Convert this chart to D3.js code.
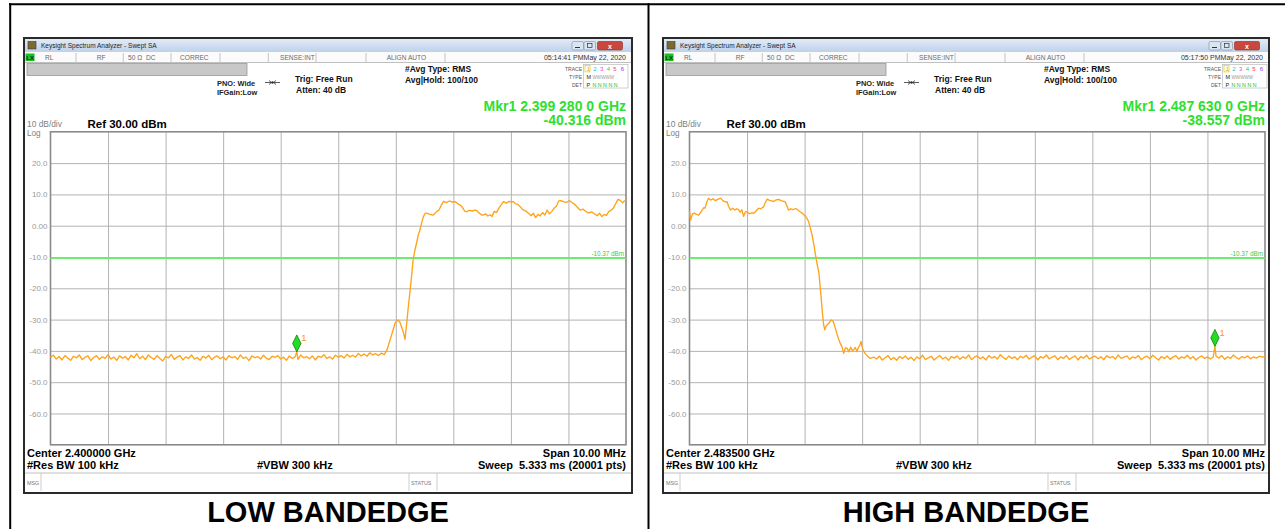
<!DOCTYPE html>
<html>
<head>
<meta charset="utf-8">
<script src="https://cdn.jsdelivr.net/npm/d3@7"></script>
<style>
  body { margin: 0; background: #fff; }
  svg { display: block; }
  text { font-family: "Liberation Sans", Arial, sans-serif; }
</style>
</head>
<body>
<div id="chart"></div>
<script>
// ---- values ----
const panelNames = ["LOW BANDEDGE", "HIGH BANDEDGE"];
const centerGHz = [2.4, 2.4835];
const centerLabels = ["Center 2.400000 GHz", "Center 2.483500 GHz"];
const markerGHz = [2.39928, 2.48763];
const markerDbm = [-40.316, -38.557];
const markerLabels = ["Mkr1 2.399 280 0 GHz", "Mkr1 2.487 630 0 GHz"];
const markerValueLabels = ["-40.316 dBm", "-38.557 dBm"];
const timeStamps = ["05:14:41 PMMay 22, 2020", "05:17:50 PMMay 22, 2020"];
const displayLineDbm = -10.37;
const yTicks = [20, 10, 0, -10, -20, -30, -40, -50, -60];
const yTickLabels = ["20.0", "10.0", "0.00", "-10.0", "-20.0", "-30.0", "-40.0", "-50.0", "-60.0"];
const xGrid = [-4, -3, -2, -1, 0, 1, 2, 3, 4]; // MHz from center, 1 MHz/div

// trace points: [offset from center in MHz, level in dBm]
const lowTrace = [
  [-5.00,-42.0],[-4.95,-41.4],[-4.90,-42.6],[-4.85,-41.8],[-4.80,-42.9],[-4.75,-41.5],[-4.70,-42.3],[-4.65,-43.0],[-4.60,-41.7],[-4.55,-42.2],
  [-4.50,-41.3],[-4.45,-42.8],[-4.40,-42.0],[-4.35,-41.6],[-4.30,-43.1],[-4.25,-42.1],[-4.20,-41.5],[-4.15,-42.7],[-4.10,-41.9],[-4.05,-42.4],
  [-4.00,-41.2],[-3.95,-42.6],[-3.90,-42.0],[-3.85,-43.0],[-3.80,-41.6],[-3.75,-42.3],[-3.70,-41.8],[-3.65,-42.9],[-3.60,-41.4],[-3.55,-42.2],
  [-3.50,-40.9],[-3.45,-42.5],[-3.40,-41.7],[-3.35,-42.8],[-3.30,-41.3],[-3.25,-42.1],[-3.20,-42.7],[-3.15,-41.5],[-3.10,-42.4],[-3.05,-43.2],
  [-3.00,-41.8],[-2.95,-42.2],[-2.90,-41.1],[-2.85,-42.7],[-2.80,-42.0],[-2.75,-41.5],[-2.70,-42.9],[-2.65,-41.9],[-2.60,-42.4],[-2.55,-41.3],
  [-2.50,-42.6],[-2.45,-42.1],[-2.40,-43.0],[-2.35,-41.7],[-2.30,-42.3],[-2.25,-41.4],[-2.20,-42.8],[-2.15,-42.0],[-2.10,-41.6],[-2.05,-42.5],
  [-2.00,-41.9],[-1.95,-42.9],[-1.90,-41.5],[-1.85,-42.2],[-1.80,-41.8],[-1.75,-42.7],[-1.70,-41.3],[-1.65,-42.4],[-1.60,-42.0],[-1.55,-43.1],
  [-1.50,-41.6],[-1.45,-42.2],[-1.40,-41.8],[-1.35,-42.6],[-1.30,-41.4],[-1.25,-42.3],[-1.20,-42.8],[-1.15,-41.7],[-1.10,-42.1],[-1.05,-41.5],
  [-1.00,-42.6],[-0.95,-42.0],[-0.90,-43.0],[-0.85,-41.6],[-0.80,-42.4],[-0.75,-41.9],[-0.72,-40.3],[-0.70,-42.7],[-0.65,-41.3],[-0.60,-42.2],[-0.55,-41.8],
  [-0.50,-42.5],[-0.45,-41.6],[-0.40,-42.9],[-0.35,-41.7],[-0.30,-42.1],[-0.25,-41.2],[-0.20,-42.4],[-0.15,-41.9],[-0.10,-42.6],[-0.05,-41.4],
  [0.00,-42.0],[0.05,-41.5],[0.10,-42.3],[0.15,-41.1],[0.20,-41.9],[0.25,-41.4],[0.30,-42.0],[0.35,-40.8],[0.40,-41.6],[0.45,-41.0],
  [0.50,-41.7],[0.55,-40.6],[0.60,-41.3],[0.65,-40.9],[0.70,-41.5],[0.75,-40.7],
  [0.80,-41.2],[0.85,-39.5],[0.90,-36.5],[0.95,-33.5],[0.99,-31.0],[1.04,-30.1],[1.07,-30.8],[1.10,-32.3],[1.13,-34.0],[1.16,-36.3],
  [1.19,-31.0],[1.22,-25.5],[1.25,-20.5],[1.28,-15.0],[1.30,-11.0],[1.33,-8.0],[1.36,-5.6],[1.39,-3.0],[1.42,-1.4],[1.45,1.0],
  [1.48,2.9],[1.51,4.0],[1.54,4.0],[1.59,3.6],[1.65,3.4],[1.71,4.5],[1.75,5.0],[1.79,6.5],[1.83,7.8],[1.88,7.4],
  [1.93,7.9],[1.98,7.5],[2.03,7.7],[2.08,7.0],[2.12,6.6],[2.16,5.8],[2.20,4.6],[2.23,4.5],[2.28,4.9],[2.33,4.7],
  [2.38,5.0],[2.41,4.8],[2.45,4.0],[2.49,3.5],[2.52,3.4],[2.56,3.8],[2.60,3.1],[2.64,3.5],[2.67,2.9],[2.71,4.6],
  [2.75,4.2],[2.78,5.2],[2.82,6.4],[2.87,7.7],[2.92,7.2],[2.97,7.8],[3.01,7.5],[3.04,7.7],[3.08,7.0],[3.12,6.8],
  [3.16,6.1],[3.20,5.2],[3.24,4.8],[3.27,4.5],[3.31,3.9],[3.35,3.2],[3.39,4.0],[3.43,2.6],[3.47,3.6],[3.51,3.1],
  [3.55,4.2],[3.59,3.4],[3.63,5.0],[3.67,3.8],[3.71,4.5],[3.75,5.6],[3.79,6.2],[3.83,7.9],[3.87,8.0],[3.92,7.6],
  [3.97,7.5],[4.02,8.0],[4.06,7.4],[4.10,7.0],[4.15,6.0],[4.20,5.0],[4.25,5.3],[4.30,4.6],[4.35,4.0],[4.40,4.4],
  [4.45,3.8],[4.50,3.2],[4.54,4.0],[4.58,2.9],[4.62,3.6],[4.66,3.3],[4.70,4.5],[4.74,4.9],[4.78,5.6],[4.82,7.0],
  [4.86,8.4],[4.90,8.1],[4.94,7.3],[4.97,7.9],[5.00,7.7]
];

const highTrace = [
  [-5.00,4.5],[-4.98,1.8],[-4.95,3.8],[-4.92,4.0],[-4.88,3.6],[-4.84,3.4],[-4.81,4.2],[-4.78,5.0],[-4.75,5.8],[-4.73,5.6],
  [-4.70,7.5],[-4.67,8.8],[-4.63,8.2],[-4.59,8.6],[-4.55,8.0],[-4.51,8.4],[-4.46,8.8],[-4.42,8.0],[-4.38,7.6],[-4.35,7.7],
  [-4.32,6.2],[-4.29,5.0],[-4.25,5.6],[-4.21,5.0],[-4.18,5.4],[-4.15,5.2],[-4.12,4.3],[-4.09,5.1],[-4.06,3.0],[-4.03,4.4],
  [-4.00,4.5],[-3.96,3.8],[-3.92,4.1],[-3.88,4.0],[-3.84,4.8],[-3.80,5.6],[-3.76,5.4],[-3.71,6.1],[-3.68,7.5],[-3.65,8.5],
  [-3.61,8.1],[-3.57,7.9],[-3.54,7.7],[-3.50,8.2],[-3.45,8.4],[-3.41,8.0],[-3.37,7.8],[-3.34,7.7],[-3.31,6.5],[-3.28,5.0],
  [-3.24,5.4],[-3.20,5.1],[-3.16,5.5],[-3.13,5.2],[-3.09,4.6],[-3.06,4.2],[-3.04,4.0],[-3.01,3.4],[-2.99,3.1],[-2.96,2.4],
  [-2.93,1.3],[-2.90,-0.8],[-2.87,-3.0],[-2.84,-6.0],[-2.81,-9.4],[-2.78,-12.5],[-2.75,-15.2],[-2.73,-19.5],[-2.71,-23.5],[-2.69,-28.0],
  [-2.67,-31.5],[-2.65,-33.3],[-2.63,-32.2],[-2.61,-31.7],[-2.58,-31.2],[-2.55,-30.4],[-2.53,-30.1],[-2.50,-30.7],[-2.47,-32.5],[-2.44,-34.4],
  [-2.41,-36.2],[-2.38,-37.6],[-2.35,-38.7],[-2.32,-40.8],[-2.29,-39.0],[-2.26,-39.2],[-2.23,-40.3],[-2.20,-38.8],[-2.17,-39.9],[-2.15,-39.7],
  [-2.12,-38.9],[-2.09,-40.2],[-2.07,-39.1],[-2.04,-38.1],[-2.02,-37.0],[-1.99,-39.5],[-1.95,-40.8],[-1.91,-41.6],[-1.86,-42.4],
  [-1.80,-42.0],[-1.75,-42.6],[-1.70,-41.7],[-1.65,-42.9],[-1.60,-42.2],[-1.55,-41.5],[-1.50,-42.8],[-1.45,-42.1],[-1.40,-43.0],[-1.35,-41.8],
  [-1.30,-42.4],[-1.25,-41.6],[-1.20,-42.7],[-1.15,-42.0],[-1.10,-43.1],[-1.05,-41.9],[-1.00,-42.5],[-0.95,-41.4],[-0.90,-42.8],[-0.85,-42.2],
  [-0.80,-41.7],[-0.75,-42.9],[-0.70,-42.1],[-0.65,-41.5],[-0.60,-42.6],[-0.55,-42.0],[-0.50,-43.0],[-0.45,-41.8],[-0.40,-42.3],[-0.35,-41.6],
  [-0.30,-42.7],[-0.25,-41.9],[-0.20,-42.4],[-0.15,-41.3],[-0.10,-42.8],[-0.05,-42.0],[0.00,-41.6],[0.05,-42.5],[0.10,-41.9],[0.15,-42.9],
  [0.20,-41.5],[0.25,-42.3],[0.30,-41.8],[0.35,-42.6],[0.40,-41.2],[0.45,-42.1],[0.50,-42.7],[0.55,-41.6],[0.60,-42.4],[0.65,-41.9],
  [0.70,-42.8],[0.75,-41.7],[0.80,-42.2],[0.85,-41.4],[0.90,-42.6],[0.95,-42.0],[1.00,-41.5],[1.05,-42.9],[1.10,-41.8],[1.15,-42.3],
  [1.20,-41.3],[1.25,-42.5],[1.30,-42.0],[1.35,-41.6],[1.40,-42.8],[1.45,-41.9],[1.50,-42.4],[1.55,-41.5],[1.60,-42.7],[1.65,-42.1],
  [1.70,-41.6],[1.75,-42.9],[1.80,-41.8],[1.85,-42.3],[1.90,-41.4],[1.95,-42.6],[2.00,-42.0],[2.05,-41.7],[2.10,-42.5],[2.15,-41.9],
  [2.20,-42.8],[2.25,-41.5],[2.30,-42.2],[2.35,-41.8],[2.40,-42.6],[2.45,-41.3],[2.50,-42.4],[2.55,-42.0],[2.60,-41.6],[2.65,-42.7],
  [2.70,-41.9],[2.75,-42.3],[2.80,-41.5],[2.85,-42.8],[2.90,-42.1],[2.95,-41.7],[3.00,-42.5],[3.05,-41.4],[3.10,-42.2],[3.15,-42.9],
  [3.20,-41.8],[3.25,-42.4],[3.30,-41.6],[3.35,-42.7],[3.40,-42.0],[3.45,-41.5],[3.50,-42.6],[3.55,-41.9],[3.60,-42.3],[3.65,-41.4],
  [3.70,-42.5],[3.75,-41.8],[3.80,-42.9],[3.85,-42.1],[3.90,-41.6],[3.95,-42.4],[4.00,-41.9],[4.05,-42.6],[4.10,-42.0],[4.13,-38.6],[4.15,-41.7],
  [4.20,-42.3],[4.25,-41.5],[4.30,-42.7],[4.35,-41.9],[4.40,-42.4],[4.45,-41.3],[4.50,-42.1],[4.55,-42.6],[4.60,-41.8],[4.65,-42.2],
  [4.70,-41.6],[4.75,-42.5],[4.80,-41.9],[4.85,-42.3],[4.90,-41.7],[4.95,-42.0],[5.00,-41.8]
];

const traces = [lowTrace, highTrace];
const winX = [24, 663];
const winW = [608, 606];

// ---- drawing ----
const svg = d3.select("#chart").append("svg").attr("width", 1285).attr("height", 529);

const grad = svg.append("defs").append("linearGradient")
  .attr("id", "titleGrad").attr("x1", 0).attr("y1", 0).attr("x2", 0).attr("y2", 1);
grad.append("stop").attr("offset", "0%").attr("stop-color", "#e2ebf7");
grad.append("stop").attr("offset", "100%").attr("stop-color", "#bed1ea");

// table frame around the two screenshots
svg.append("line").attr("x1", 9).attr("x2", 1285).attr("y1", 4.3).attr("y2", 4.3).attr("stroke", "#000").attr("stroke-width", 2);
svg.append("line").attr("x1", 10.2).attr("x2", 10.2).attr("y1", 3.3).attr("y2", 529).attr("stroke", "#000").attr("stroke-width", 2);
svg.append("line").attr("x1", 648.5).attr("x2", 648.5).attr("y1", 3.3).attr("y2", 529).attr("stroke", "#000").attr("stroke-width", 2);

function label(parent, x, y, s, size, fill, weight, anchor) {
  return parent.append("text").attr("x", x).attr("y", y)
    .attr("font-size", size).attr("fill", fill || "#000")
    .attr("font-weight", weight || "normal")
    .attr("text-anchor", anchor || "start")
    .text(s);
}

function drawPanel(i) {
  const W = winW[i];
  const g = svg.append("g").attr("transform", "translate(" + winX[i] + ",38)");

  // window body + title bar
  g.append("rect").attr("x", 0).attr("y", 0).attr("width", W).attr("height", 455)
    .attr("fill", "#fff").attr("stroke", "#2a2a2a").attr("stroke-width", 2);
  g.append("rect").attr("x", 1).attr("y", 1).attr("width", W - 2).attr("height", 13).attr("fill", "url(#titleGrad)");
  g.append("rect").attr("x", 4).attr("y", 3.5).attr("width", 8).attr("height", 7.5)
    .attr("fill", "#7d6a2e").attr("stroke", "#3a3a3a").attr("stroke-width", 0.6);
  label(g, 17, 10.3, "Keysight Spectrum Analyzer - Swept SA", 6.5, "#1e1e1e");

  // min / restore / close
  [W - 60, W - 48].forEach((bx) => {
    g.append("rect").attr("x", bx).attr("y", 3.5).attr("width", 11.5).attr("height", 8.5).attr("rx", 1.5)
      .attr("fill", "#dbe5f2").attr("stroke", "#7b8ea8").attr("stroke-width", 0.6);
  });
  g.append("line").attr("x1", W - 57).attr("x2", W - 52).attr("y1", 9.5).attr("y2", 9.5).attr("stroke", "#333");
  g.append("rect").attr("x", W - 44.5).attr("y", 5.5).attr("width", 4.5).attr("height", 4)
    .attr("fill", "none").attr("stroke", "#333").attr("stroke-width", 0.7);
  g.append("rect").attr("x", W - 34.5).attr("y", 3.5).attr("width", 25).attr("height", 8.5).attr("rx", 1.5)
    .attr("fill", "#c9473d").attr("stroke", "#8a2c26").attr("stroke-width", 0.6);
  label(g, W - 22, 10.5, "x", 7, "#fff", "bold", "middle");

  // settings status row
  g.append("rect").attr("x", 1).attr("y", 14).attr("width", W - 2).attr("height", 10.5).attr("fill", "#fbfbfb");
  g.append("line").attr("x1", 1).attr("x2", W - 1).attr("y1", 24.5).attr("y2", 24.5).attr("stroke", "#b0b0b0").attr("stroke-width", 0.8);
  g.append("rect").attr("x", 1.5).attr("y", 15.5).attr("width", 9).attr("height", 7.5).attr("fill", "#17c417");
  label(g, 2.3, 22, "LX", 6, "#14204a", "bold");
  [52, 99.3, 147, 196, 244.3, 292, 342, 421].forEach((sx) => {
    g.append("line").attr("x1", sx).attr("x2", sx).attr("y1", 15).attr("y2", 24).attr("stroke", "#b8b8b8").attr("stroke-width", 0.8);
  });
  const statusItems = [[21, "RL"], [72.7, "RF"], [104, "50 \u03A9"], [122, "DC"], [156, "CORREC"], [256, "SENSE:INT"], [362.7, "ALIGN AUTO"]];
  statusItems.forEach((d) => label(g, d[0], 22, d[1], 6.6, "#6a6a6a"));
  label(g, W - 6, 22.3, timeStamps[i], 7, "#333", "normal", "end");

  // gray message bar
  g.append("rect").attr("x", 3).attr("y", 25.5).attr("width", 220).attr("height", 12)
    .attr("fill", "#c8c8c8").attr("stroke", "#9a9a9a").attr("stroke-width", 0.8);

  // acquisition settings
  label(g, 193, 47.5, "PNO: Wide", 7.4, "#222", "bold");
  label(g, 193, 57, "IFGain:Low", 7.4, "#222", "bold");
  g.append("path").attr("d", "M241,44.5H256M245,42.5L247.5,44.5L245,46.5M252,42.5L249.5,44.5L252,46.5")
    .attr("stroke", "#333").attr("stroke-width", 0.8).attr("fill", "none");
  g.append("circle").attr("cx", 248.5).attr("cy", 44.5).attr("r", 1.2).attr("fill", "#333");
  label(g, 271, 43.5, "Trig: Free Run", 8.5, "#111", "bold");
  label(g, 272, 54.5, "Atten: 40 dB", 8.5, "#111", "bold");
  label(g, 381, 33.5, "#Avg Type: RMS", 8.5, "#111", "bold");
  label(g, 381, 44.5, "Avg|Hold: 100/100", 8.5, "#111", "bold");

  // trace legend
  label(g, 558, 32.5, "TRACE", 5, "#555", "normal", "end");
  label(g, 558, 40.5, "TYPE", 5, "#555", "normal", "end");
  label(g, 558, 48.5, "DET", 5, "#555", "normal", "end");
  g.append("rect").attr("x", 559.5).attr("y", 26.5).attr("width", 44.5).attr("height", 23.5)
    .attr("fill", "#fff").attr("stroke", "#b0b0b0").attr("stroke-width", 0.6);
  g.append("rect").attr("x", 561).attr("y", 27.3).attr("width", 5).attr("height", 6.6)
    .attr("fill", "none").attr("stroke", "#c8d800").attr("stroke-width", 0.7);
  const traceDigits = ["1", "2", "3", "4", "5", "6"];
  const traceColors = ["#ff9900", "#00c8e8", "#ff33ff", "#33cc33", "#ff3366", "#9933ff"];
  const digitX = [562.7, 569.3, 576, 582.7, 589.3, 596.7];
  traceDigits.forEach((d, k) => label(g, digitX[k], 32.8, d, 6, traceColors[k]));
  label(g, 562.5, 40.5, "M", 5.5, "#222");
  label(g, 568.5, 40.5, "WWWWW", 4.6, "#999");
  label(g, 562.5, 48.5, "P", 5.5, "#222");
  label(g, 568.5, 48.5, "N N N N N", 5.3, "#22bb22");

  // marker readout
  label(g, 602, 72.5, markerLabels[i], 14, "#2fdf2f", "bold", "end");
  label(g, 602, 86.5, markerValueLabels[i], 14, "#2fdf2f", "bold", "end");
  label(g, 3, 88.5, "10 dB/div", 8.4, "#808080");
  label(g, 3, 97.6, "Log", 8.2, "#808080");
  label(g, 63.5, 89.5, "Ref 30.00 dBm", 11.5, "#000", "bold");

  // ---- plot ----
  const pw = 575.5, ph = 313;
  const plot = g.append("g").attr("transform", "translate(26.5,93.8)");
  const x = d3.scaleLinear().domain([-5, 5]).range([0, pw]);
  const y = d3.scaleLinear().domain([-70, 30]).range([ph, 0]);

  plot.append("g").attr("transform", "translate(0," + ph + ")")
    .call(d3.axisBottom(x).tickValues(xGrid).tickSize(-ph).tickFormat(""))
    .call((a) => a.select(".domain").remove())
    .selectAll("line").attr("stroke", "#b3b3b3");
  plot.append("g")
    .call(d3.axisLeft(y).tickValues(yTicks).tickSize(-pw).tickFormat(""))
    .call((a) => a.select(".domain").remove())
    .selectAll("line").attr("stroke", "#b3b3b3");

  const yAxis = plot.append("g")
    .call(d3.axisLeft(y).tickValues(yTicks).tickSize(0).tickPadding(3).tickFormat((d, k) => yTickLabels[k]));
  yAxis.select(".domain").remove();
  yAxis.selectAll("text").attr("font-size", 8).attr("fill", "#9a9a9a")
    .attr("font-family", "'Liberation Sans', Arial, sans-serif");

  plot.append("rect").attr("x", 0).attr("y", 0).attr("width", pw).attr("height", ph)
    .attr("fill", "none").attr("stroke", "#8a8a8a").attr("stroke-width", 1.6);

  // display line
  plot.append("line").attr("x1", 0).attr("x2", pw)
    .attr("y1", y(displayLineDbm)).attr("y2", y(displayLineDbm))
    .attr("stroke", "#70ee70").attr("stroke-width", 1.5);
  label(plot, pw - 2, y(displayLineDbm) - 2, "-10.37 dBm", 6.3, "#3ccc3c", "normal", "end");

  // trace
  const line = d3.line().x((d) => x(d[0])).y((d) => y(d[1]));
  plot.append("path").datum(traces[i]).attr("d", line)
    .attr("fill", "none").attr("stroke", "#ffa31a").attr("stroke-width", 1.35).attr("stroke-linejoin", "round");

  // marker 1
  const mx = x((markerGHz[i] - centerGHz[i]) * 1000);
  const my = y(markerDbm[i]);
  plot.append("path")
    .attr("d", "M" + mx + "," + my + "L" + (mx + 4.2) + "," + (my - 8.5) + "L" + mx + "," + (my - 17) + "L" + (mx - 4.2) + "," + (my - 8.5) + "Z")
    .attr("fill", "#22dd22").attr("stroke", "#0b6e0b").attr("stroke-width", 0.7);
  label(plot, mx + 4.5, my - 10.5, "1", 9.5, "#ff9900");

  // footer readouts
  label(g, 3, 418.5, centerLabels[i], 11, "#000", "bold");
  label(g, 602, 418.5, "Span 10.00 MHz", 11, "#000", "bold", "end");
  label(g, 3, 431, "#Res BW 100 kHz", 11, "#000", "bold");
  label(g, 233, 431, "#VBW 300 kHz", 11, "#000", "bold");
  label(g, 602, 431, "Sweep  5.333 ms (20001 pts)", 11, "#000", "bold", "end").style("white-space", "pre");

  // message / status bar
  g.append("line").attr("x1", 1).attr("x2", W - 1).attr("y1", 435).attr("y2", 435).attr("stroke", "#b0b0b0").attr("stroke-width", 0.8);
  [17, 385, 413].forEach((sx) => {
    g.append("line").attr("x1", sx).attr("x2", sx).attr("y1", 435).attr("y2", 453).attr("stroke", "#c0c0c0").attr("stroke-width", 0.8);
  });
  label(g, 3, 447, "MSG", 5.4, "#777");
  label(g, 387, 447, "STATUS", 5.4, "#777");

  // caption under the screenshot
  label(svg, winX[i] + W / 2, 522, panelNames[i], 29, "#000", "bold", "middle");
}

drawPanel(0);
drawPanel(1);
</script>
</body>
</html>
